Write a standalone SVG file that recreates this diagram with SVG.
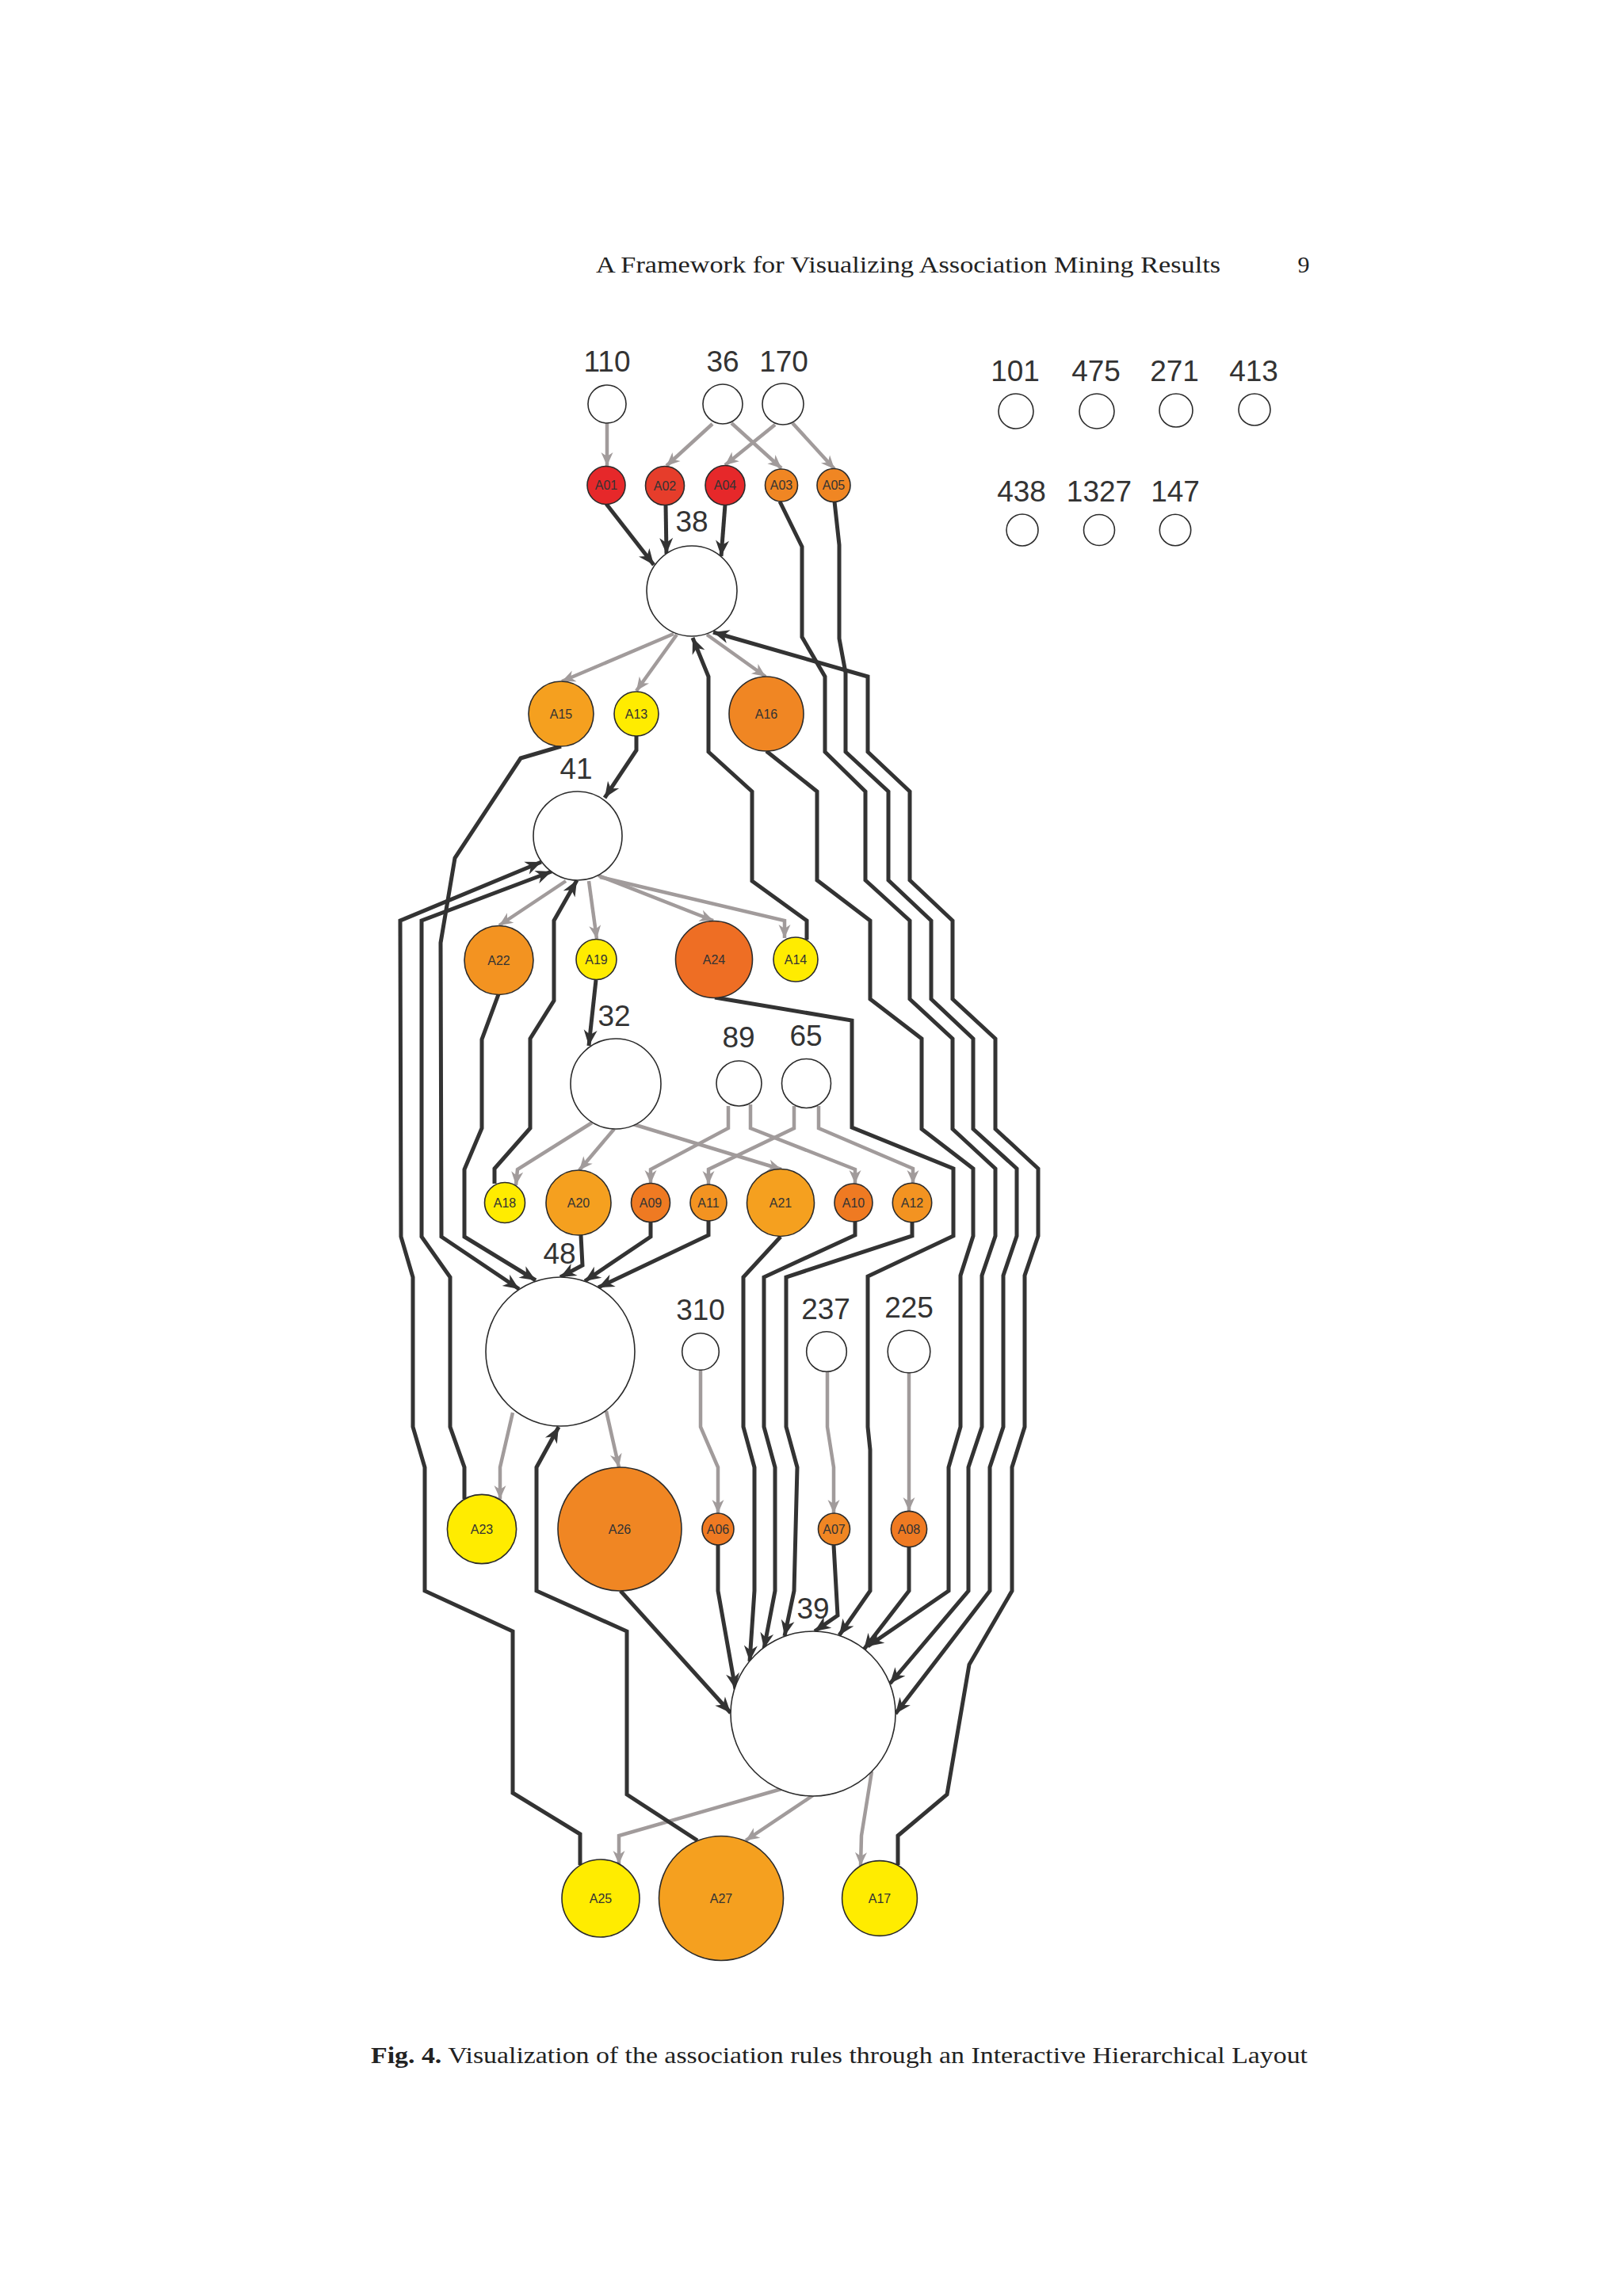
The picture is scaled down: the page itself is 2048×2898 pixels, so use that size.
<svg xmlns="http://www.w3.org/2000/svg" width="2048" height="2898" viewBox="0 0 2048 2898">
<defs>
<style>
.num{fill:#fff;stroke:#2b2b2b;stroke-width:1.6}
.a{stroke:#2b2b2b;stroke-width:1.6}
.lbl{font-family:"Liberation Sans",Arial,sans-serif;font-size:37px;fill:#333;text-anchor:middle}
.al{font-family:"Liberation Sans",Arial,sans-serif;font-size:16px;fill:#333;text-anchor:middle}
.e{fill:none;stroke:#333;stroke-width:5;stroke-linejoin:miter;marker-end:url(#ad)}
.g{fill:none;stroke:#a19b9b;stroke-width:4.5;stroke-linejoin:miter;marker-end:url(#ag)}
.serif{font-family:"Liberation Serif","Times New Roman",serif;font-size:30px;fill:#222}
.c1{fill:#e6282a}.c2{fill:#e63d2b}.c3{fill:#ee6e24}.c4{fill:#ef7a22}.c5{fill:#f08623}.c6{fill:#f39321}.c7{fill:#f5a01f}.c8{fill:#ffec00}
</style>
<marker id="ad" viewBox="-22 -11 24 22" markerWidth="24" markerHeight="22" refX="0" refY="0" orient="auto" markerUnits="userSpaceOnUse"><path d="M0,0 L-20,-8.5 L-14,0 L-20,8.5 Z" fill="#333"/></marker>
<marker id="ag" viewBox="-20 -10 22 20" markerWidth="22" markerHeight="20" refX="0" refY="0" orient="auto" markerUnits="userSpaceOnUse"><path d="M0,0 L-17,-7.5 L-12,0 L-17,7.5 Z" fill="#a19b9b"/></marker>
</defs>
<rect width="2048" height="2898" fill="#fff"/>
<g id="header">
<text class="serif" x="752" y="344" textLength="788" lengthAdjust="spacingAndGlyphs">A Framework for Visualizing Association Mining Results</text>
<text class="serif" x="1645" y="344" text-anchor="middle">9</text>
</g>
<g id="caption">
<text class="serif" x="468" y="2604" textLength="1182" lengthAdjust="spacingAndGlyphs"><tspan font-weight="bold">Fig. 4.</tspan> Visualization of the association rules through an Interactive Hierarchical Layout</text>
</g>
<g id="connectors">
<path class="g" d="M766,534 L766,588"/>
<path class="g" d="M899,535 L841,588"/>
<path class="g" d="M923,534 L986,591"/>
<path class="g" d="M978,536 L915,587"/>
<path class="g" d="M1000,534 L1053,592"/>
<path class="g" d="M850,800 L709,860"/>
<path class="g" d="M854,801 L803,872"/>
<path class="g" d="M892,801 L966,854"/>
<path class="g" d="M714,1112 L630,1168"/>
<path class="g" d="M743,1112 L753,1185"/>
<path class="g" d="M755,1105 L900,1162"/>
<path class="g" d="M757,1107 L990,1162 L990,1184"/>
<path class="g" d="M747,1417 L653,1476 L651,1496"/>
<path class="g" d="M775,1425 L731,1477"/>
<path class="g" d="M799,1419 L986,1476"/>
<path class="g" d="M919,1396 L919,1424 L821,1476 L821,1494"/>
<path class="g" d="M947,1394 L947,1424 L1079,1476 L1079,1494"/>
<path class="g" d="M1002,1396 L1002,1424 L894,1476 L894,1495"/>
<path class="g" d="M1033,1396 L1033,1424 L1152,1475 L1152,1494"/>
<path class="g" d="M647,1783 L631,1852 L631,1892"/>
<path class="g" d="M765,1781 L781,1852"/>
<path class="g" d="M884,1729 L884,1801 L906,1852 L906,1910"/>
<path class="g" d="M1044,1731 L1044,1801 L1052,1852 L1052,1910"/>
<path class="g" d="M1147,1733 L1147,1907"/>
<path class="g" d="M986,2258 L781,2317 L781,2353"/>
<path class="g" d="M1026,2266 L941,2323"/>
<path class="g" d="M1100,2236 L1087,2317 L1086,2355"/>
<path class="e" d="M765,636 L825,713"/>
<path class="e" d="M840,637 L841,699"/>
<path class="e" d="M915,637 L910,702"/>
<path class="e" d="M984,633 L1012,690 L1012,804 L1041,854 L1041,949 L1092,999 L1092,1111 L1148,1162 L1148,1261 L1202,1311 L1202,1425 L1256,1475 L1256,1560 L1239,1610 L1239,1801 L1222,1852 L1222,2008 L1123,2125"/>
<path class="e" d="M1053,633 L1059,688 L1059,806 L1067,849 L1067,949 L1121,999 L1121,1111 L1175,1162 L1175,1261 L1228,1311 L1228,1425 L1283,1475 L1283,1560 L1266,1610 L1266,1801 L1249,1852 L1249,2008 L1130,2163"/>
<path class="e" d="M1133,2354 L1133,2317 L1195,2265 L1223,2101 L1277,2008 L1277,1852 L1293,1801 L1293,1610 L1310,1560 L1310,1475 L1256,1425 L1256,1311 L1202,1261 L1202,1162 L1148,1111 L1148,999 L1095,949 L1095,854 L900,798"/>
<path class="e" d="M967,948 L1031,999 L1031,1111 L1098,1162 L1098,1261 L1163,1311 L1163,1425 L1228,1475 L1228,1560 L1212,1610 L1212,1801 L1197,1852 L1197,2008 L1095,2078"/>
<path class="e" d="M1018,1186 L1018,1162 L949,1112 L949,999 L894,949 L894,854 L874,805"/>
<path class="e" d="M803,929 L803,947 L763,1007"/>
<path class="e" d="M708,942 L657,957 L574,1083 L556,1190 L557,1561 L655,1627"/>
<path class="e" d="M629,1255 L608,1312 L608,1424 L586,1476 L586,1561 L676,1616"/>
<path class="e" d="M732,2354 L732,2315 L647,2263 L647,2059 L536,2008 L536,1852 L521,1801 L521,1612 L506,1561 L505,1162 L683,1088"/>
<path class="e" d="M586,1892 L586,1852 L568,1801 L568,1612 L532,1561 L532,1162 L696,1100"/>
<path class="e" d="M624,1494 L624,1475 L669,1424 L669,1311 L699,1263 L699,1162 L728,1111"/>
<path class="e" d="M752,1237 L743,1320"/>
<path class="e" d="M733,1559 L735,1597 L707,1612"/>
<path class="e" d="M821,1542 L821,1561 L738,1617"/>
<path class="e" d="M894,1541 L894,1559 L755,1625"/>
<path class="e" d="M985,1561 L938,1612 L938,1801 L952,1852 L952,2008 L946,2097"/>
<path class="e" d="M1079,1542 L1079,1559 L964,1612 L964,1801 L978,1852 L978,2008 L964,2081"/>
<path class="e" d="M1151,1543 L1151,1560 L992,1612 L992,1801 L1006,1852 L1002,2008 L990,2065"/>
<path class="e" d="M902,1259 L1075,1288 L1075,1423 L1203,1475 L1203,1560 L1095,1611 L1095,1801 L1098,1830 L1098,2008 L1059,2064"/>
<path class="e" d="M906,1950 L906,2008 L928,2132"/>
<path class="e" d="M783,2008 L922,2162"/>
<path class="e" d="M1052,1950 L1057,2039 L1028,2059"/>
<path class="e" d="M1147,1953 L1147,2008 L1090,2082"/>
<path class="e" d="M880,2323 L791,2265 L791,2059 L677,2008 L677,1852 L705,1801"/>
</g>
<g id="n110"><circle class="num" cx="766" cy="510" r="24"/><text class="lbl" x="766" y="469">110</text></g>
<g id="n36"><circle class="num" cx="912" cy="510" r="25"/><text class="lbl" x="912" y="469">36</text></g>
<g id="n170"><circle class="num" cx="988" cy="510" r="26"/><text class="lbl" x="989" y="469">170</text></g>
<g id="n101"><circle class="num" cx="1282" cy="519" r="22"/><text class="lbl" x="1281" y="481">101</text></g>
<g id="n475"><circle class="num" cx="1384" cy="519" r="22"/><text class="lbl" x="1383" y="481">475</text></g>
<g id="n271"><circle class="num" cx="1484" cy="518" r="21"/><text class="lbl" x="1482" y="481">271</text></g>
<g id="n413"><circle class="num" cx="1583" cy="517" r="20"/><text class="lbl" x="1582" y="481">413</text></g>
<g id="n438"><circle class="num" cx="1290" cy="669" r="20"/><text class="lbl" x="1289" y="633">438</text></g>
<g id="n1327"><circle class="num" cx="1387" cy="669" r="19.5"/><text class="lbl" x="1387" y="633">1327</text></g>
<g id="n147"><circle class="num" cx="1483" cy="669" r="19.7"/><text class="lbl" x="1483" y="633">147</text></g>
<g id="A01"><circle class="a c1" cx="765" cy="612.5" r="24"/><text class="al" x="765" y="618">A01</text></g>
<g id="A02"><circle class="a c2" cx="839" cy="613" r="24.5"/><text class="al" x="839" y="618.5">A02</text></g>
<g id="A04"><circle class="a c1" cx="915" cy="612.5" r="25"/><text class="al" x="915" y="618">A04</text></g>
<g id="A03"><circle class="a c5" cx="986" cy="612.5" r="20.5"/><text class="al" x="986" y="618">A03</text></g>
<g id="A05"><circle class="a c5" cx="1052" cy="612.5" r="21"/><text class="al" x="1052" y="618">A05</text></g>
<g id="n38"><circle class="num" cx="873" cy="746" r="57"/><text class="lbl" x="873" y="671">38</text></g>
<g id="A15"><circle class="a c7" cx="708" cy="901" r="41"/><text class="al" x="708" y="906.5">A15</text></g>
<g id="A13"><circle class="a c8" cx="803" cy="901" r="28"/><text class="al" x="803" y="906.5">A13</text></g>
<g id="A16"><circle class="a c5" cx="967" cy="901" r="47"/><text class="al" x="967" y="906.5">A16</text></g>
<g id="n41"><circle class="num" cx="729" cy="1055" r="56"/><text class="lbl" x="727" y="983">41</text></g>
<g id="A22"><circle class="a c6" cx="629.5" cy="1212" r="43.5"/><text class="al" x="629.5" y="1217.5">A22</text></g>
<g id="A19"><circle class="a c8" cx="752.5" cy="1211" r="25.5"/><text class="al" x="752.5" y="1216.5">A19</text></g>
<g id="A24"><circle class="a c3" cx="901" cy="1211" r="48.5"/><text class="al" x="901" y="1216.5">A24</text></g>
<g id="A14"><circle class="a c8" cx="1004" cy="1211" r="28"/><text class="al" x="1004" y="1216.5">A14</text></g>
<g id="n32"><circle class="num" cx="777" cy="1368" r="57"/><text class="lbl" x="775" y="1295">32</text></g>
<g id="n89"><circle class="num" cx="932.5" cy="1367.5" r="28.5"/><text class="lbl" x="932" y="1322">89</text></g>
<g id="n65"><circle class="num" cx="1017.5" cy="1367.5" r="31"/><text class="lbl" x="1017" y="1320">65</text></g>
<g id="A18"><circle class="a c8" cx="637" cy="1518" r="25.5"/><text class="al" x="637" y="1523.5">A18</text></g>
<g id="A20"><circle class="a c7" cx="730" cy="1518" r="41"/><text class="al" x="730" y="1523.5">A20</text></g>
<g id="A09"><circle class="a c4" cx="821" cy="1518" r="24.5"/><text class="al" x="821" y="1523.5">A09</text></g>
<g id="A11"><circle class="a c6" cx="894" cy="1518" r="23"/><text class="al" x="894" y="1523.5">A11</text></g>
<g id="A21"><circle class="a c7" cx="985" cy="1518" r="42.5"/><text class="al" x="985" y="1523.5">A21</text></g>
<g id="A10"><circle class="a c4" cx="1077" cy="1518" r="24"/><text class="al" x="1077" y="1523.5">A10</text></g>
<g id="A12"><circle class="a c6" cx="1151" cy="1518" r="24.7"/><text class="al" x="1151" y="1523.5">A12</text></g>
<g id="n48"><circle class="num" cx="707" cy="1706" r="94"/><text class="lbl" x="706" y="1595">48</text></g>
<g id="n310"><circle class="num" cx="884" cy="1706" r="23.3"/><text class="lbl" x="884" y="1666">310</text></g>
<g id="n237"><circle class="num" cx="1043" cy="1706" r="25.3"/><text class="lbl" x="1042" y="1665">237</text></g>
<g id="n225"><circle class="num" cx="1147" cy="1706" r="26.8"/><text class="lbl" x="1147" y="1663">225</text></g>
<g id="A23"><circle class="a c8" cx="608" cy="1930" r="43.6"/><text class="al" x="608" y="1935.5">A23</text></g>
<g id="A26"><circle class="a c5" cx="782" cy="1930" r="78"/><text class="al" x="782" y="1935.5">A26</text></g>
<g id="A06"><circle class="a c4" cx="906" cy="1930" r="20"/><text class="al" x="906" y="1935.5">A06</text></g>
<g id="A07"><circle class="a c5" cx="1052.5" cy="1930" r="20"/><text class="al" x="1052.5" y="1935.5">A07</text></g>
<g id="A08"><circle class="a c4" cx="1147" cy="1930" r="22.6"/><text class="al" x="1147" y="1935.5">A08</text></g>
<g id="n39"><circle class="num" cx="1026" cy="2163" r="104"/><text class="lbl" x="1026" y="2043">39</text></g>
<g id="A25"><circle class="a c8" cx="758" cy="2396" r="49"/><text class="al" x="758" y="2401.5">A25</text></g>
<g id="A27"><circle class="a c7" cx="910" cy="2396" r="78.5"/><text class="al" x="910" y="2401.5">A27</text></g>
<g id="A17"><circle class="a c8" cx="1110" cy="2396" r="47.4"/><text class="al" x="1110" y="2401.5">A17</text></g>
</svg>
